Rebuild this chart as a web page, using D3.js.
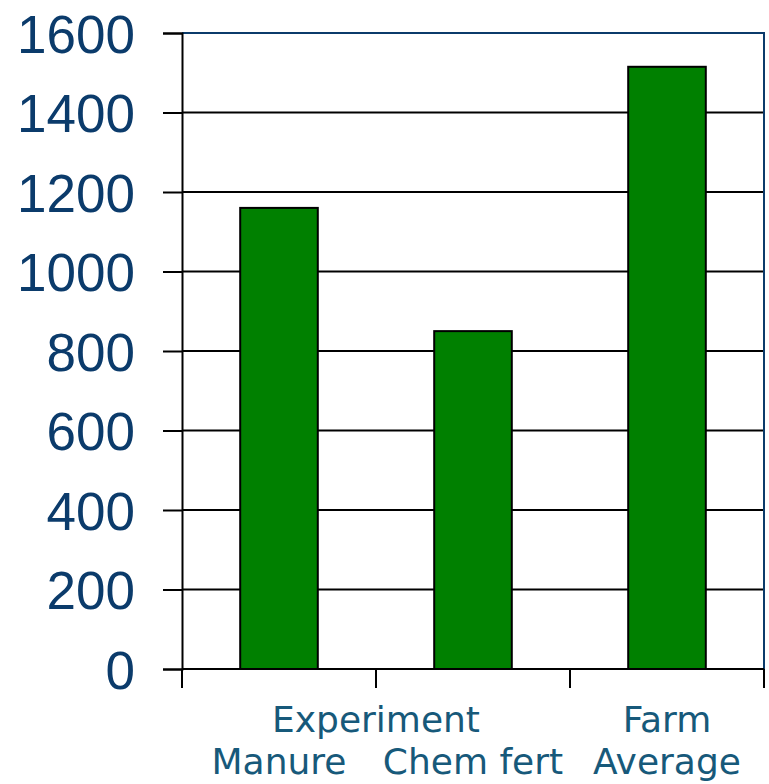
<!DOCTYPE html>
<html>
<head>
<meta charset="utf-8">
<script src="https://cdn.jsdelivr.net/npm/d3@7"></script>
<style>
  body { margin: 0; background: #fff; }
</style>
</head>
<body>
<div id="chart"></div>
<script>
// Chart data
const categories = ["Manure", "Chem fert", "Average"];
const values = [1160, 850, 1515];
const groupNames = ["Experiment", "Farm"];
const groupMembers = [["Manure", "Chem fert"], ["Average"]];
const yTicks = [0, 200, 400, 600, 800, 1000, 1200, 1400, 1600];

const margin = {top: 33, right: 5, bottom: 115, left: 182},
    width = 769 - margin.left - margin.right,
    height = 784 - margin.top - margin.bottom;

const svg = d3.select("#chart")
    .append("svg")
    .attr("width", 769)
    .attr("height", 784)
    .append("g")
    .attr("transform", "translate(" + margin.left + "," + margin.top + ")");

const x = d3.scaleBand()
    .domain(categories)
    .range([0, width])
    .paddingInner(0.6)
    .paddingOuter(0.3);

const y = d3.scaleLinear()
    .domain([0, 1600])
    .range([height, 0]);

// Gridlines
svg.selectAll("line.grid")
    .data(yTicks)
    .enter()
    .append("line")
    .attr("class", "grid")
    .attr("x1", 0)
    .attr("x2", width)
    .attr("y1", d => y(d))
    .attr("y2", d => y(d))
    .attr("stroke", "#000")
    .attr("stroke-width", 2);

// Plot border (top and right) in dark blue
svg.append("path")
    .attr("d", "M0," + y(1600) + "H" + width + "V" + y(0))
    .attr("fill", "none")
    .attr("stroke", "#0b3b6b")
    .attr("stroke-width", 2);

// Bars
svg.selectAll("rect")
    .data(categories)
    .enter()
    .append("rect")
    .attr("x", d => x(d))
    .attr("y", (d, i) => y(values[i]))
    .attr("width", x.bandwidth())
    .attr("height", (d, i) => y(0) - y(values[i]))
    .attr("fill", "#008000")
    .attr("stroke", "#000")
    .attr("stroke-width", 2);

// Y axis
const yAxis = svg.append("g")
    .call(d3.axisLeft(y).tickValues(yTicks).tickFormat(d3.format("d")).tickSize(19).tickPadding(28));
yAxis.select(".domain").attr("stroke", "#000").attr("stroke-width", 2);
yAxis.selectAll(".tick line").attr("stroke", "#000").attr("stroke-width", 2);
yAxis.selectAll(".tick text")
    .attr("fill", "#0b3b6b")
    .attr("dy", "0.36em")
    .style("font-family", "'Liberation Sans', Arial, sans-serif")
    .style("font-size", "53px");

// X axis line and category boundary ticks
const step = x.step();
const boundaries = categories.map(c => x(c) - step * x.paddingOuter()).concat([width]);
svg.append("line")
    .attr("x1", 0)
    .attr("x2", width)
    .attr("y1", height)
    .attr("y2", height)
    .attr("stroke", "#000")
    .attr("stroke-width", 2);
svg.selectAll("line.xtick")
    .data(boundaries)
    .enter()
    .append("line")
    .attr("class", "xtick")
    .attr("x1", d => d)
    .attr("x2", d => d)
    .attr("y1", height)
    .attr("y2", height + 19)
    .attr("stroke", "#000")
    .attr("stroke-width", 2);

const labelFont = "'DejaVu Sans', Verdana, sans-serif";
const center = c => x(c) + x.bandwidth() / 2;

// Category labels (bottom line)
svg.selectAll("text.cat")
    .data(categories)
    .enter()
    .append("text")
    .attr("class", "cat")
    .attr("x", d => center(d))
    .attr("y", height + 105)
    .attr("text-anchor", "middle")
    .attr("fill", "#17597a")
    .style("font-family", labelFont)
    .style("font-size", "36px")
    .text(d => d);

// Group labels (upper line)
svg.selectAll("text.group")
    .data(groupNames)
    .enter()
    .append("text")
    .attr("class", "group")
    .attr("x", (d, i) => d3.mean(groupMembers[i], c => center(c)))
    .attr("y", height + 63)
    .attr("text-anchor", "middle")
    .attr("fill", "#17597a")
    .style("font-family", labelFont)
    .style("font-size", "36px")
    .text(d => d);
</script>
</body>
</html>
